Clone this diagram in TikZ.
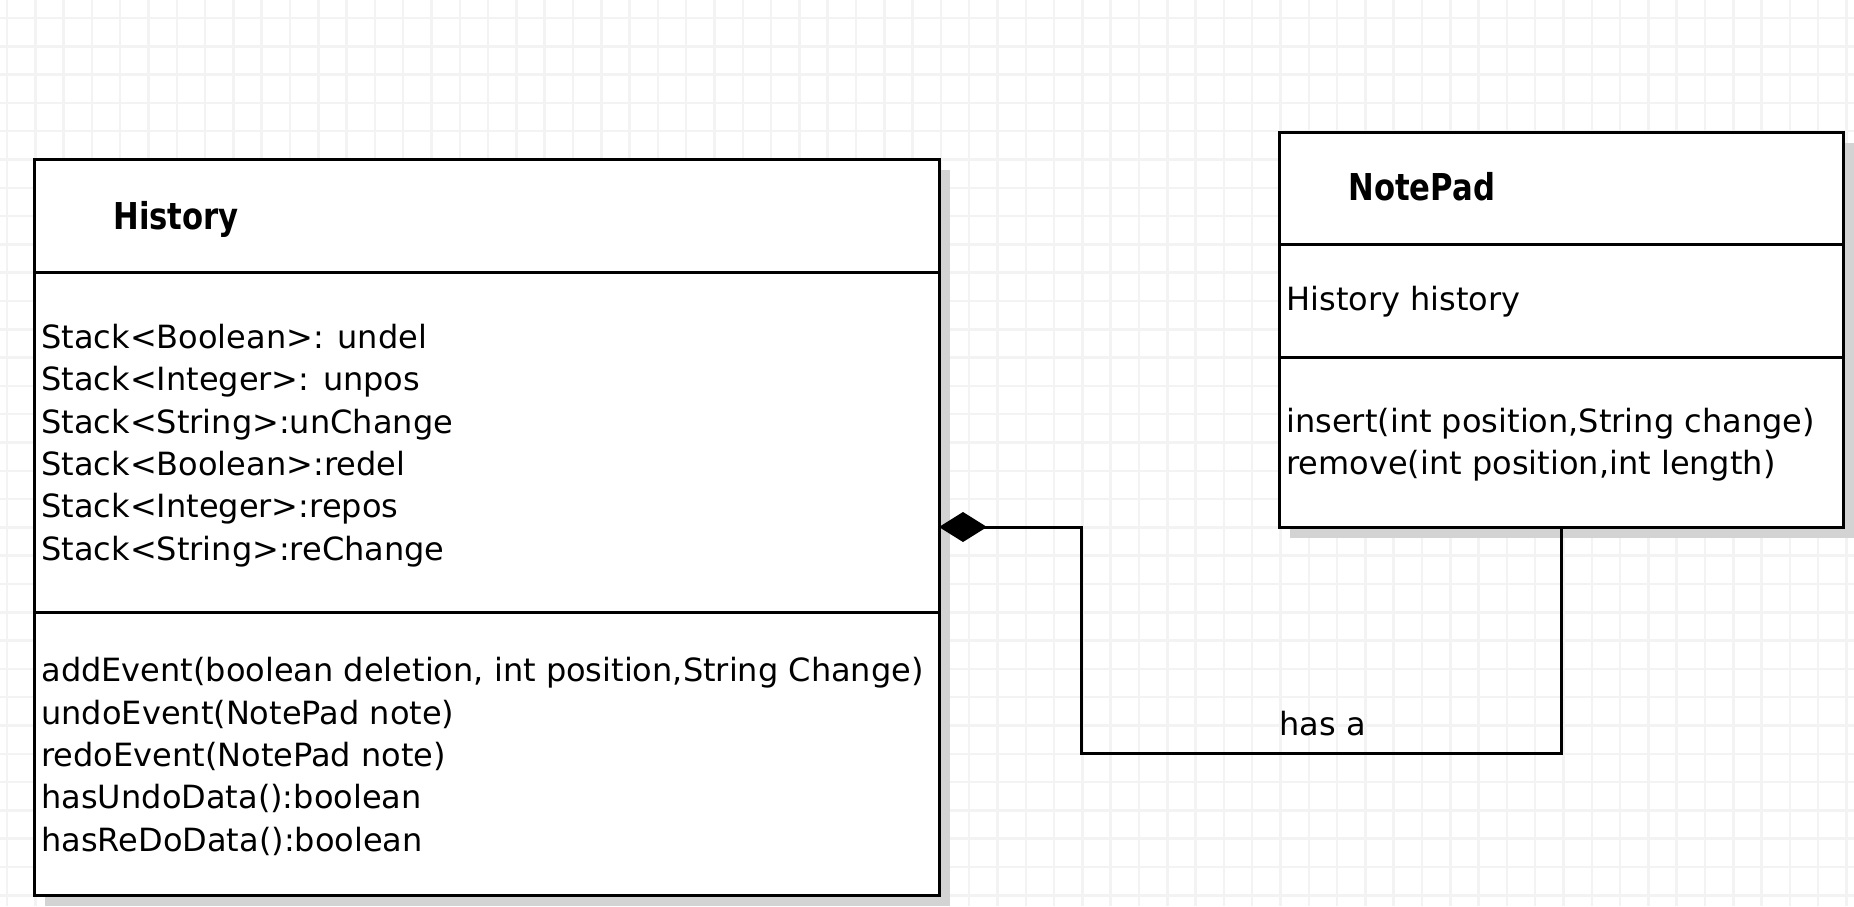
\documentclass[tikz,border=0pt]{standalone}
\usepackage{fontspec}
\setmainfont{DejaVu Sans}
\newfontfamily\titlefont[FakeStretch=0.83]{DejaVu Sans}
\usetikzlibrary{arrows.meta,fit}
\definecolor{gridgray}{RGB}{243,243,243}
\definecolor{shadowgray}{RGB}{211,211,211}
\begin{document}
\begin{tikzpicture}[x=0.5pt,y=-0.5pt,
  compart/.style={draw=black, line width=1.5pt, fill=white, rectangle, inner sep=0pt, outer sep=0pt, anchor=north west},
  body/.style={font=\fontsize{16}{21.15}\selectfont, align=left, inner sep=0pt, anchor=west},
  title/.style={font=\titlefont\bfseries\fontsize{18.5}{22}\selectfont, inner sep=0pt, anchor=base west},
  gridline/.style={draw=gridgray, line width=1.25pt},
  shadowbox/.style={fill=shadowgray, draw=none},
  link/.style={draw=black, line width=1.5pt}
]
\useasboundingbox (0,0) rectangle (1854,906);
\fill[white] (0,0) rectangle (1854,906);
\begin{scope}
\clip (0,0) rectangle (1854,906);
\foreach \i in {0,...,65} \draw[gridline] ({7+28.3*\i},0) -- ({7+28.3*\i},906);
\foreach \j in {0,...,31} \draw[gridline] (0,{18+28.3*\j}) -- (1854,{18+28.3*\j});
% shadows
\fill[shadowbox] (45,170) rectangle (950,906);
\fill[shadowbox] (1290,143) rectangle (1860,538);
\end{scope}

% History class
\node[compart, minimum width=452.5pt, minimum height=56.5pt] (histT) at (34,159) {};
\node[compart, minimum width=452.5pt, minimum height=170pt] (histA) at (34,272) {};
\node[compart, minimum width=452.5pt, minimum height=141.5pt] (histM) at (34,612) {};
\node[fit=(histT)(histM), inner sep=0pt, outer sep=0pt] (hist) {};
\node[title] (histName) at (113,229) {History};
\node[body] (histAttr) at ([xshift=3.5pt,yshift=-1.8pt]histA.west) {Stack<Boolean>: undel\\Stack<Integer>: unpos\\Stack<String>:unChange\\Stack<Boolean>:redel\\Stack<Integer>:repos\\Stack<String>:reChange};
\node[body] (histMeth) at ([xshift=3.5pt,yshift=-1.5pt]histM.west) {addEvent(boolean deletion, int position,String Change)\\undoEvent(NotePad note)\\redoEvent(NotePad note)\\hasUndoData():boolean\\hasReDoData():boolean};

% NotePad class
\node[compart, minimum width=282pt, minimum height=56pt] (npT) at (1279,132) {};
\node[compart, minimum width=282pt, minimum height=56.5pt] (npA) at (1279,244) {};
\node[compart, minimum width=282pt, minimum height=85pt] (npM) at (1279,357) {};
\node[fit=(npT)(npM), inner sep=0pt, outer sep=0pt] (np) {};
\node[title] (npName) at (1348,200) {NotePad};
\node[body] (npAttr) at ([xshift=3.5pt,yshift=-0.8pt]npA.west) {History history};
\node[body] (npMeth) at ([xshift=3.5pt,yshift=-1.5pt]npM.west) {insert(int position,String change)\\remove(int position,int length)};

% composition
\coordinate (bend) at (1081,753);
\draw[link, -{Diamond[length=24pt, width=15pt]}] (np.south) |- (bend) |- (hist.east);
\node[body] (lbl) at (1279,724) {has a};
\end{tikzpicture}
\end{document}
